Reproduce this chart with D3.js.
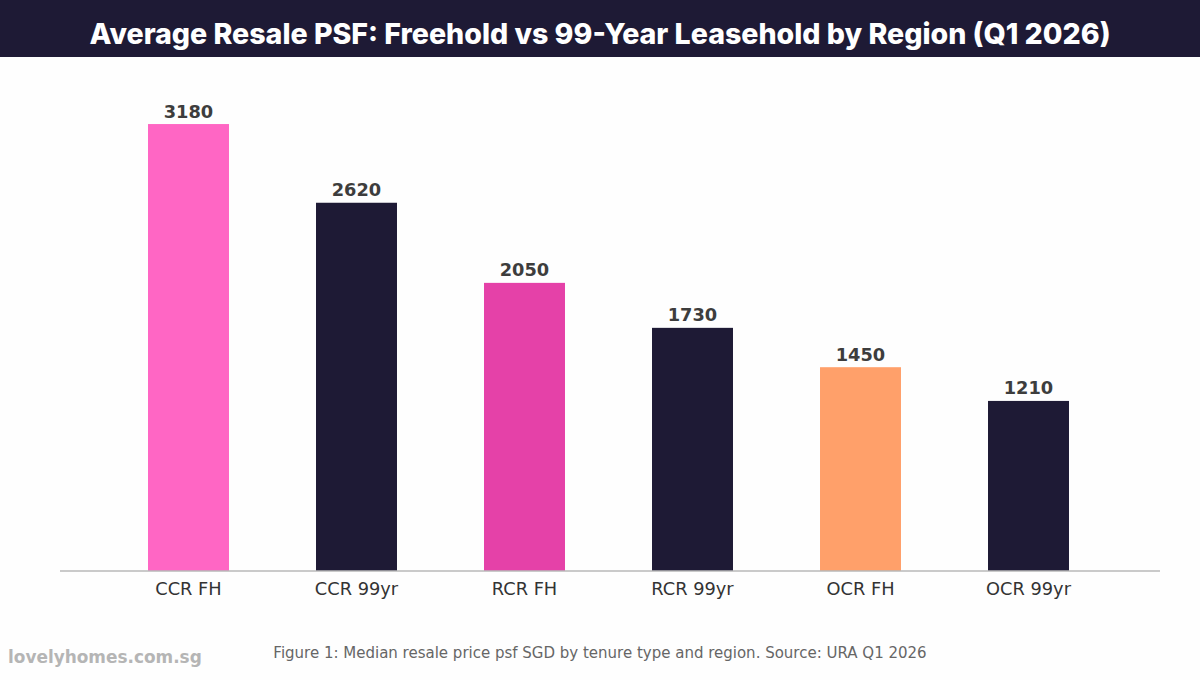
<!DOCTYPE html>
<html><head><meta charset="utf-8">
<script src="https://cdn.jsdelivr.net/npm/d3@7"></script>
<style>body{margin:0;background:#fff;}svg{display:block;}</style>
</head><body>
<svg id="c" width="1200" height="680"></svg>
<script>
const categories = ["CCR FH","CCR 99yr","RCR FH","RCR 99yr","OCR FH","OCR 99yr"];
const values = [3180, 2620, 2050, 1730, 1450, 1210];
const barColors = ["#ff66c4","#1e1a35","#e541a8","#1e1a35","#ffa06a","#1e1a35"];
const titleText = "Average Resale PSF: Freehold vs 99-Year Leasehold by Region (Q1 2026)";
const captionText = "Figure 1: Median resale price psf SGD by tenure type and region. Source: URA Q1 2026";
const watermarkText = "lovelyhomes.com.sg";

const svg = d3.select("#c");
svg.append("rect").attr("width",1200).attr("height",680).attr("fill","#fefefe");
svg.append("rect").attr("width",1200).attr("height",57).attr("fill","#1e1a35");
const t = svg.append("text").attr("x",600).attr("y",44).attr("text-anchor","middle")
  .attr("fill","#ffffff").attr("font-family","Inter, 'Open Sans', sans-serif")
  .attr("font-weight",800).attr("font-size",28).text(titleText);
const tw = t.node().getComputedTextLength();
t.attr("font-size", 28*1022/tw);

const x = d3.scaleBand().domain(categories).range([104.5,1112.5]).paddingInner(0.518).paddingOuter(0.259);
const y = d3.scaleLinear().domain([0, d3.max(values)*1.15]).range([571,57]);

svg.append("g").selectAll("rect").data(values).join("rect")
  .attr("x",(d,i)=>x(categories[i])).attr("width",x.bandwidth())
  .attr("y",d=>y(d)).attr("height",d=>y(0)-y(d))
  .attr("fill",(d,i)=>barColors[i]);

svg.append("g").selectAll("text").data(values).join("text")
  .attr("x",(d,i)=>x(categories[i])+x.bandwidth()/2).attr("y",d=>y(d)-6.5)
  .attr("text-anchor","middle").attr("font-family","'DejaVu Sans', sans-serif")
  .attr("font-weight","bold").attr("font-size",17.8).attr("fill","#3d3d3d")
  .text(d=>d);

const ax = svg.append("g").attr("transform","translate(0,571)")
  .call(d3.axisBottom(x).tickSize(0).tickPadding(11.5));
ax.select(".domain").remove();
ax.selectAll("text").attr("font-family","'DejaVu Sans', sans-serif").attr("font-size",17.8).attr("fill","#333");
svg.append("line").attr("x1",60).attr("x2",1160).attr("y1",571).attr("y2",571)
  .attr("stroke","#b8b8b8").attr("stroke-width",1.6);

svg.append("text").attr("x",600).attr("y",657.5).attr("text-anchor","middle")
  .attr("font-family","'DejaVu Sans', sans-serif").attr("font-size",15).attr("fill","#666")
  .text(captionText);
const w = svg.append("text").attr("x",8).attr("y",663)
  .attr("font-family","'DejaVu Sans', sans-serif").attr("font-weight","bold").attr("font-size",17).attr("fill","#b5b5b5")
  .text(watermarkText);
const ww = w.node().getComputedTextLength();
w.attr("font-size", 17*194/ww);
</script>
</body></html>
